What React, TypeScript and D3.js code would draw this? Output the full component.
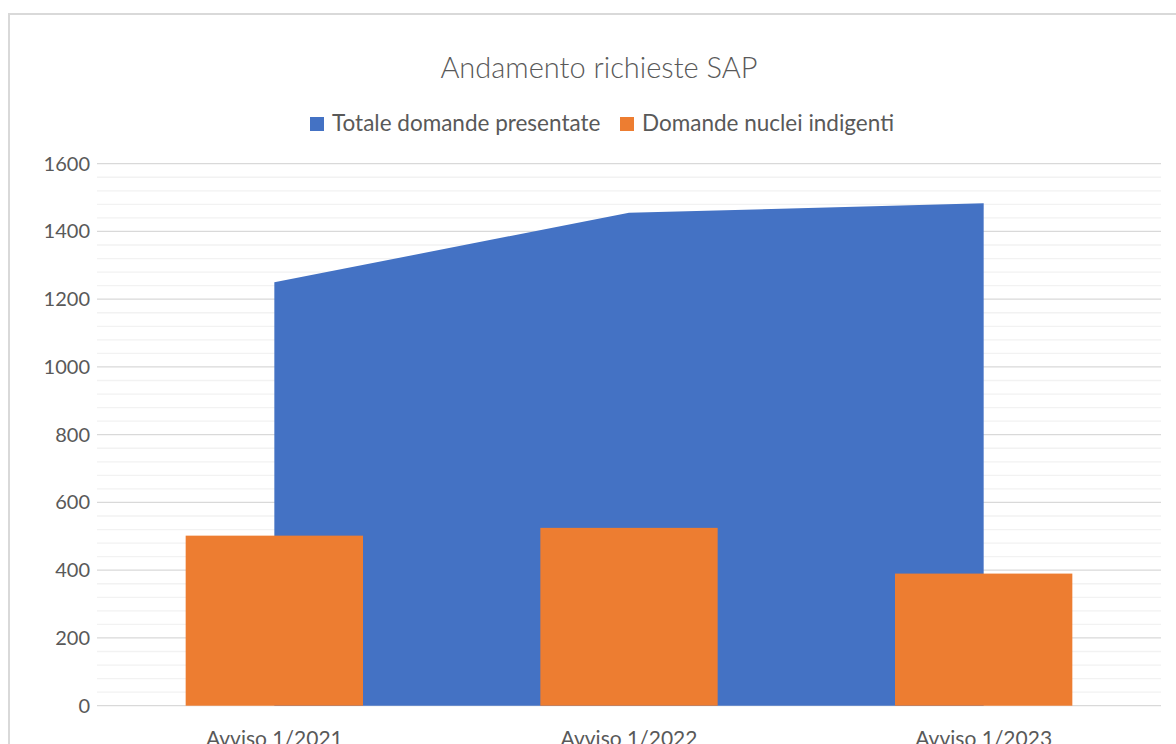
import React, { useEffect, useRef } from 'react'
import * as d3 from 'd3'

const categories = ['Avviso 1/2021', 'Avviso 1/2022', 'Avviso 1/2023']
const totaleDomande = [1250, 1455, 1483]
const domandeIndigenti = [502, 525, 390]
const yTicks = [0, 200, 400, 600, 800, 1000, 1200, 1400, 1600]

const seriesLabels = ['Totale domande presentate', 'Domande nuclei indigenti']
const colors = ['#4472C4', '#ED7D31']

export default function App() {
  const svgRef = useRef<SVGSVGElement>(null)

  useEffect(() => {
    if (!svgRef.current) return
    const W = 1176
    const H = 744
    const svg = d3.select(svgRef.current)
    svg.selectAll('*').remove()
    svg.attr('width', W).attr('height', H)

    const font = 'Lato, "Open Sans", sans-serif'
    const margin = { left: 97, right: 1161, top: 163.7, bottom: 705.7 }

    // chart frame (bigger than viewport)
    svg.append('rect')
      .attr('x', 9).attr('y', 14)
      .attr('width', 1200).attr('height', 800)
      .attr('fill', '#fff')
      .attr('stroke', '#D9D9D9')
      .attr('stroke-width', 2)

    const x = d3.scaleBand<string>()
      .domain(categories)
      .range([margin.left, margin.right])
      .padding(0)

    const y = d3.scaleLinear()
      .domain([0, 1600])
      .range([margin.bottom, margin.top])

    // minor gridlines
    const minor = d3.range(0, 1601, 40).filter(v => v % 200 !== 0)
    svg.append('g').selectAll('line')
      .data(minor)
      .enter().append('line')
      .attr('x1', margin.left).attr('x2', margin.right)
      .attr('y1', d => y(d)).attr('y2', d => y(d))
      .attr('stroke', '#F2F2F2')
      .attr('stroke-width', 1.3)

    // major gridlines
    svg.append('g').selectAll('line')
      .data(yTicks)
      .enter().append('line')
      .attr('x1', margin.left).attr('x2', margin.right)
      .attr('y1', d => y(d)).attr('y2', d => y(d))
      .attr('stroke', '#D9D9D9')
      .attr('stroke-width', 1.3)

    // y tick labels
    svg.append('g').selectAll('text')
      .data(yTicks)
      .enter().append('text')
      .attr('x', 90)
      .attr('y', d => y(d))
      .attr('dy', '0.35em')
      .attr('text-anchor', 'end')
      .attr('fill', '#595959')
      .style('font-family', font)
      .style('font-size', '20px')
      .text(d => d)

    // area series
    const areaData = categories.map((c, i) => ({ c, v: totaleDomande[i] }))
    const area = d3.area<{ c: string; v: number }>()
      .x(d => (x(d.c) || 0) + x.bandwidth() / 2)
      .y0(y(0))
      .y1(d => y(d.v))
    svg.append('path')
      .datum(areaData)
      .attr('d', area)
      .attr('fill', colors[0])

    // bar series
    const barW = x.bandwidth() / 2
    svg.append('g').selectAll('rect')
      .data(domandeIndigenti)
      .enter().append('rect')
      .attr('x', (d, i) => (x(categories[i]) || 0) + x.bandwidth() / 4)
      .attr('y', d => y(d))
      .attr('width', barW)
      .attr('height', d => y(0) - y(d))
      .attr('fill', colors[1])

    // x labels
    svg.append('g').selectAll('text')
      .data(categories)
      .enter().append('text')
      .attr('x', d => (x(d) || 0) + x.bandwidth() / 2)
      .attr('y', 746)
      .attr('text-anchor', 'middle')
      .attr('fill', '#595959')
      .style('font-family', font)
      .style('font-size', '21px')
      .text(d => d)

    // title
    svg.append('text')
      .attr('x', 599)
      .attr('y', 78)
      .attr('text-anchor', 'middle')
      .attr('fill', '#595959')
      .style('font-family', font)
      .style('font-weight', 300)
      .style('font-size', '29px')
      .text('Andamento richieste SAP')

    // legend
    const legendItems = [
      { label: seriesLabels[0], color: colors[0], x: 310 },
      { label: seriesLabels[1], color: colors[1], x: 620 },
    ]
    const lg = svg.append('g')
    legendItems.forEach(item => {
      lg.append('rect')
        .attr('x', item.x).attr('y', 117)
        .attr('width', 14).attr('height', 14)
        .attr('fill', item.color)
      lg.append('text')
        .attr('x', item.x + 22)
        .attr('y', 123.5)
        .attr('dy', '0.35em')
        .attr('fill', '#595959')
        .style('font-family', font)
        .style('font-size', '22.5px')
        .text(item.label)
    })
  }, [])

  return (
    <div style={{ position: 'absolute', left: 0, top: 0, width: 1176, height: 744, overflow: 'hidden' }}>
      <svg ref={svgRef} style={{ display: 'block' }}></svg>
    </div>
  )
}
